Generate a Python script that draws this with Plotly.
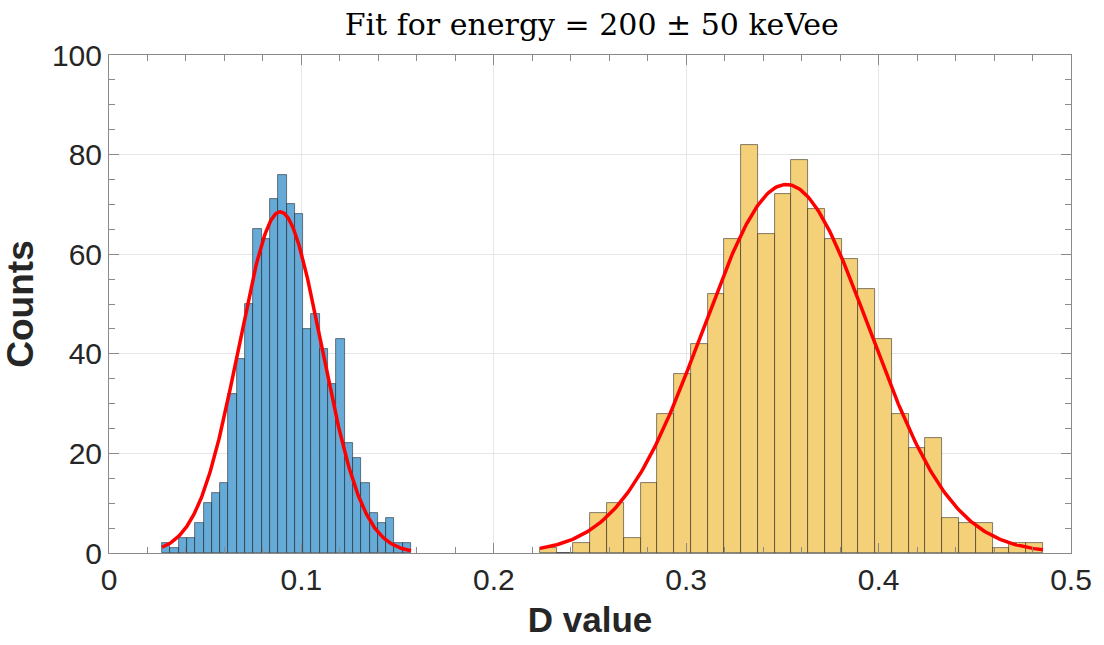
import numpy as np
import plotly.graph_objects as go

# ---- data ----
blue_first_edge = 0.02759
blue_bin_width = 0.004313
blue_counts = [2, 1, 3, 3, 6, 10, 12, 14, 32, 39, 50, 65, 63, 71, 76,
               70, 68, 45, 48, 41, 34, 43, 22, 19, 14, 8, 6, 7, 2, 2]

yellow_first_edge = 0.22397
yellow_bin_width = 0.008713
yellow_counts = [1, 0, 2, 8, 10, 3, 14, 28, 36, 42, 52, 63, 82, 64, 72,
                 79, 69, 63, 59, 53, 43, 28, 21, 23, 7, 6, 6, 1, 2, 2]

# Gaussian fit parameters (amplitude, mean, sigma)
blue_fit = dict(amp=68.5, mu=0.0890, sigma=0.0215)
yellow_fit = dict(amp=74.0, mu=0.3520, sigma=0.0433)

title_text = "Fit for energy = 200 ± 50 keVee"
x_label = "D value"
y_label = "Counts"
x_ticks = [0, 0.1, 0.2, 0.3, 0.4, 0.5]
x_ticklabels = ["0", "0.1", "0.2", "0.3", "0.4", "0.5"]
y_ticks = [0, 20, 40, 60, 80, 100]

BLUE = "#66AAD7"
YELLOW = "#F4D079"
EDGE = "rgba(0,0,0,0.6)"
AXC = "#8a8a8a"
TXT = "#262626"


def centers(first, w, n):
    return first + w * (np.arange(n) + 0.5)


def gauss_curve(first, w, n, p):
    xs = np.linspace(first, first + w * n, 300)
    ys = p["amp"] * np.exp(-0.5 * ((xs - p["mu"]) / p["sigma"]) ** 2)
    return xs, ys


fig = go.Figure()
for first, w, counts, col in [
    (blue_first_edge, blue_bin_width, blue_counts, BLUE),
    (yellow_first_edge, yellow_bin_width, yellow_counts, YELLOW),
]:
    fig.add_trace(go.Bar(
        x=centers(first, w, len(counts)), y=counts, width=w,
        marker=dict(color=col, line=dict(color=EDGE, width=0.8)),
        showlegend=False,
    ))

for first, w, counts, p in [
    (blue_first_edge, blue_bin_width, blue_counts, blue_fit),
    (yellow_first_edge, yellow_bin_width, yellow_counts, yellow_fit),
]:
    xs, ys = gauss_curve(first, w, len(counts), p)
    fig.add_trace(go.Scatter(x=xs, y=ys, mode="lines",
                             line=dict(color="#ff0000", width=3.5),
                             showlegend=False))

axis_common = dict(
    showline=True, linecolor=AXC, linewidth=1, mirror="allticks",
    ticks="inside", ticklen=10, tickcolor=AXC, tickwidth=1,
    showgrid=True, gridcolor="#e6e6e6", gridwidth=1,
    zeroline=False,
    tickfont=dict(family="Liberation Sans, Arial", size=30, color=TXT),
)

fig.update_layout(
    width=1104, height=645,
    margin=dict(l=109, r=29, t=55, b=92),
    plot_bgcolor="white", paper_bgcolor="white",
    barmode="overlay", bargap=0,
    title=dict(text=title_text, x=0.536, xanchor="center", y=0.962,
               yanchor="middle",
               font=dict(family="DejaVu Serif", size=30, color="#000000")),
    xaxis=dict(range=[0, 0.5], tickvals=x_ticks, ticktext=x_ticklabels,
               title=dict(text=f"<b>{x_label}</b>", standoff=12,
                          font=dict(family="Liberation Sans, Arial", size=35, color=TXT)),
               minor=dict(dtick=0.02, ticks="inside", ticklen=6, tickcolor=AXC,
                          showgrid=False),
               **axis_common),
    yaxis=dict(range=[0, 100], tickvals=y_ticks,
               title=dict(text=f"<b>{y_label}</b>", standoff=8,
                          font=dict(family="Liberation Sans, Arial", size=37, color=TXT)),
               minor=dict(dtick=5, ticks="inside", ticklen=6, tickcolor=AXC,
                          showgrid=False),
               **axis_common),
)

fig.write_html("out.html")
